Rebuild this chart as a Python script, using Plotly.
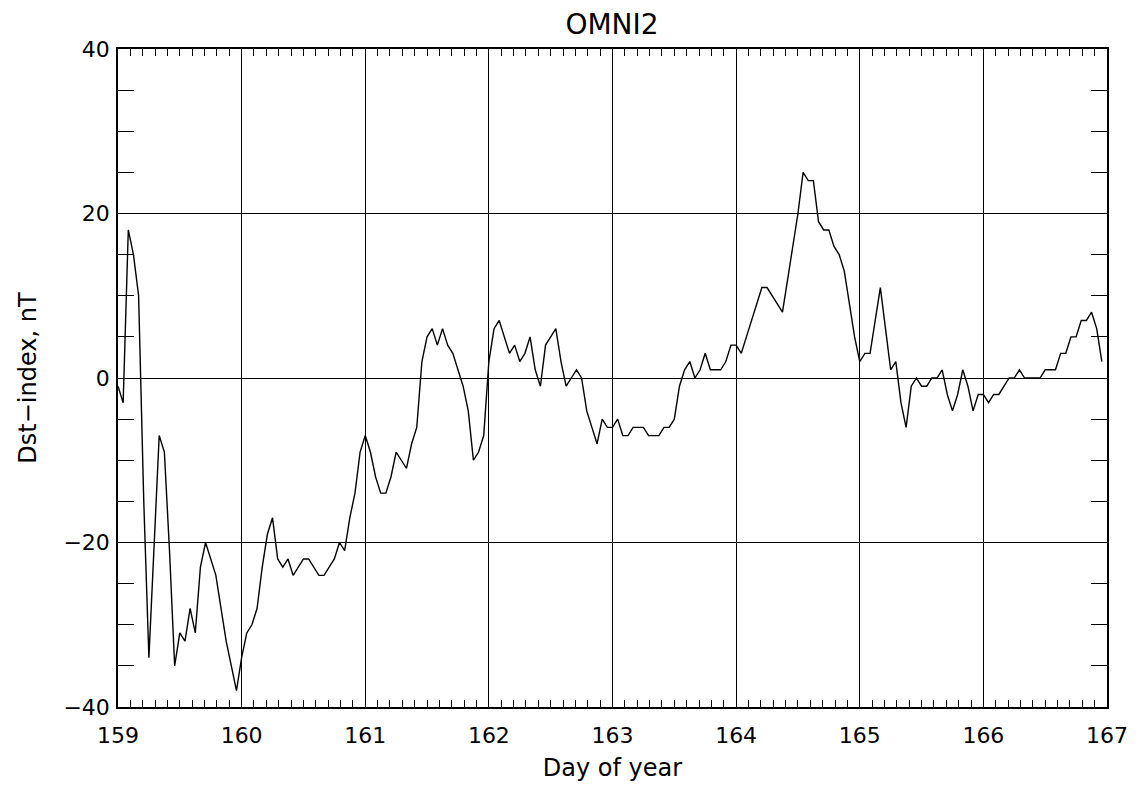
import plotly.graph_objects as go

# Hourly Dst-index values (nT), one list per day of year
dst_159 = [-1, -3, 18, 15, 10, -15, -34, -21, -7, -9, -21, -35, -31, -32, -28, -31, -23, -20, -22, -24, -28, -32, -35, -38]
dst_160 = [-34, -31, -30, -28, -23, -19, -17, -22, -23, -22, -24, -23, -22, -22, -23, -24, -24, -23, -22, -20, -21, -17, -14, -9]
dst_161 = [-7, -9, -12, -14, -14, -12, -9, -10, -11, -8, -6, 2, 5, 6, 4, 6, 4, 3, 1, -1, -4, -10, -9, -7]
dst_162 = [2, 6, 7, 5, 3, 4, 2, 3, 5, 1, -1, 4, 5, 6, 2, -1, 0, 1, 0, -4, -6, -8, -5, -6]
dst_163 = [-6, -5, -7, -7, -6, -6, -6, -7, -7, -7, -6, -6, -5, -1, 1, 2, 0, 1, 3, 1, 1, 1, 2, 4]
dst_164 = [4, 3, 5, 7, 9, 11, 11, 10, 9, 8, 12, 16, 20, 25, 24, 24, 19, 18, 18, 16, 15, 13, 9, 5]
dst_165 = [2, 3, 3, 7, 11, 6, 1, 2, -3, -6, -1, 0, -1, -1, 0, 0, 1, -2, -4, -2, 1, -1, -4, -2]
dst_166 = [-2, -3, -2, -2, -1, 0, 0, 1, 0, 0, 0, 0, 1, 1, 1, 3, 3, 5, 5, 7, 7, 8, 6, 2]

days = [159, 160, 161, 162, 163, 164, 165, 166]
day_series = [dst_159, dst_160, dst_161, dst_162, dst_163, dst_164, dst_165, dst_166]

x_ticks = [159, 160, 161, 162, 163, 164, 165, 166, 167]
y_ticks = [-40, -20, 0, 20, 40]
y_tick_text = ["\u221240", "\u221220", "0", "20", "40"]

t = []
v = []
for d, vals in zip(days, day_series):
    for h, val in enumerate(vals):
        t.append(d + h / 24.0)
        v.append(val)

fig = go.Figure()
fig.add_trace(go.Scatter(x=t, y=v, mode="lines",
                         line=dict(color="black", width=1.4),
                         showlegend=False, hoverinfo="skip"))

font_family = "DejaVu Sans"
W, H = 1137, 781

fig.update_layout(
    width=W, height=H,
    paper_bgcolor="white", plot_bgcolor="white",
    margin=dict(l=110, r=38, t=41, b=79),
    title=dict(text="OMNI2", x=(612 - 8) / W, xanchor="center", y=1 - 16 / H, yanchor="middle",
               font=dict(family=font_family, size=28, color="black")),
    font=dict(family=font_family, color="black"),
)

fig.update_xaxes(
    range=[159, 167], tickvals=x_ticks, ticktext=[str(x) for x in x_ticks],
    showline=True, linecolor="black", linewidth=1.5, mirror="ticks",
    showgrid=True, gridcolor="black", gridwidth=1,
    zeroline=False,
    ticks="inside", ticklen=7, tickcolor="black", tickwidth=1,
    minor=dict(dtick=0.1, ticks="inside", ticklen=7, tickcolor="black", tickwidth=1, showgrid=False),
    tickfont=dict(family=font_family, size=22, color="black"),
    ticklabelstandoff=8,
    title=dict(text="Day of year", font=dict(family=font_family, size=24, color="black"), standoff=12),
)
fig.update_yaxes(
    range=[-40, 40], tickvals=y_ticks, ticktext=y_tick_text,
    showline=True, linecolor="black", linewidth=1.5, mirror="ticks",
    showgrid=True, gridcolor="black", gridwidth=1,
    zeroline=False,
    ticks="inside", ticklen=16, tickcolor="black", tickwidth=1,
    minor=dict(dtick=5, ticks="inside", ticklen=16, tickcolor="black", tickwidth=1, showgrid=False),
    tickfont=dict(family=font_family, size=22, color="black"),
    ticklabelstandoff=2,
    title=dict(text="Dst\u2212index, nT", font=dict(family=font_family, size=24, color="black"), standoff=20),
)

fig.write_html("out.html")
